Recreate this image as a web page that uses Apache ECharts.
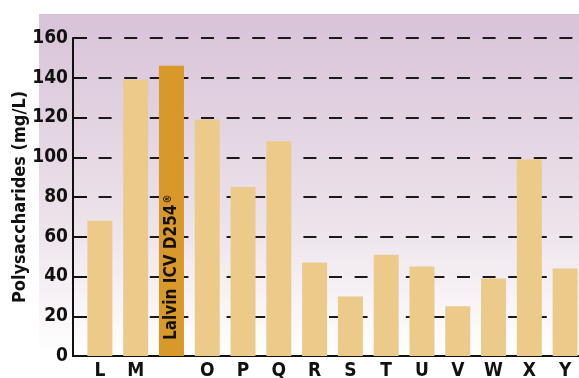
<!DOCTYPE html>
<html>
<head>
<meta charset="utf-8">
<script src="https://cdn.jsdelivr.net/npm/echarts@6/dist/echarts.min.js"></script>
<style>
  html, body { margin: 0; padding: 0; background: #fff; }
  #main { width: 579px; height: 378px; }
</style>
</head>
<body>
<div id="main"></div>
<script>
// categories under each bar (the Lalvin bar carries its name inside)
var categories = ['L', 'M', '', 'O', 'P', 'Q', 'R', 'S', 'T', 'U', 'V', 'W', 'X', 'Y'];
var values = [68, 139, 146, 119, 85, 108, 47, 30, 51, 45, 25, 39, 99, 44];
var highlightIndex = 2;
var highlightName = 'Lalvin ICV D254';
var yTicks = [0, 20, 40, 60, 80, 100, 120, 140, 160];

var FONT = "'Liberation Sans Narrow', 'DejaVu Sans Condensed', 'Arial Narrow', sans-serif";

var chart = echarts.init(document.getElementById('main'));

var barData = values.map(function (v, i) {
  if (i === highlightIndex) {
    return {
      value: v,
      itemStyle: { color: '#d8992a' },
      label: {
        show: true,
        formatter: '{a|' + highlightName + '}{r|®}',
        position: 'insideBottom',
        rotate: 90,
        align: 'left',
        verticalAlign: 'middle',
        distance: 16,
        rich: {
          a: { color: '#111', fontFamily: FONT, fontWeight: 'bold', fontSize: 17 },
          r: { color: '#111', fontFamily: FONT, fontWeight: 'bold', fontSize: 10, verticalAlign: 'top', padding: [0, 0, 6, 1] }
        }
      }
    };
  }
  return v;
});

chart.setOption({
  animation: false,
  graphic: [
    {
      type: 'rect',
      z: -10,
      shape: { x: 39, y: 14, width: 540, height: 342 },
      style: {
        fill: new echarts.graphic.LinearGradient(0, 0, 0, 1, [
          { offset: 0, color: '#d8c3d8' },
          { offset: 0.6, color: '#ece2ea' },
          { offset: 1, color: '#ffffff' }
        ])
      }
    },
    {
      // axis line continues under the offset y axis
      type: 'line',
      z: 10,
      shape: { x1: 72, y1: 356, x2: 83, y2: 356 },
      style: { stroke: '#111', lineWidth: 2 }
    }
  ],
  grid: { left: 82, top: 38, bottom: 22, width: 501, containLabel: false, outerBoundsMode: 'none' },
  xAxis: {
    type: 'category',
    data: categories,
    axisLine: { lineStyle: { color: '#111', width: 2 } },
    axisTick: { show: false },
    axisLabel: {
      color: '#111',
      fontFamily: FONT,
      fontWeight: 'bold',
      fontSize: 19,
      margin: 6
    }
  },
  yAxis: {
    type: 'value',
    min: yTicks[0],
    max: yTicks[yTicks.length - 1],
    interval: 20,
    offset: 9,
    name: 'Polysaccharides (mg/L)',
    nameLocation: 'middle',
    nameGap: 44,
    nameMoveOverlap: false,
    nameTextStyle: {
      color: '#111',
      fontFamily: FONT,
      fontWeight: 'bold',
      fontSize: 18
    },
    axisLine: { show: true, lineStyle: { color: '#111', width: 2 } },
    axisTick: { show: true, inside: true, length: 14, lineStyle: { color: '#111', width: 2 } },
    axisLabel: {
      color: '#111',
      fontFamily: FONT,
      fontWeight: 'bold',
      fontSize: 19,
      margin: 5
    },
    splitLine: {
      show: true,
      lineStyle: { color: '#1a1a1a', width: 2, type: [13, 12.6], dashOffset: 9 }
    }
  },
  series: [{
    type: 'bar',
    data: barData,
    barWidth: 25,
    itemStyle: { color: '#ecca8a' }
  }]
});
</script>
</body>
</html>
